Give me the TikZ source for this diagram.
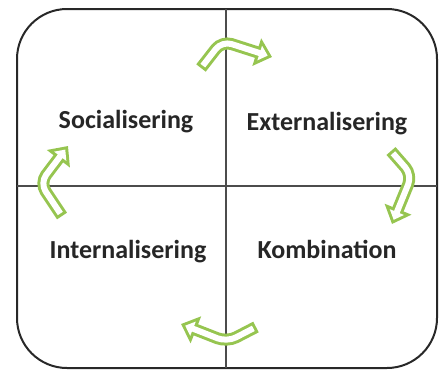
\documentclass[tikz,border=0pt]{standalone}
\usepackage{fontspec}
\setmainfont{Carlito}
\usetikzlibrary{arrows.meta}

\definecolor{cyclegreen}{RGB}{150,197,80}
\definecolor{framegray}{RGB}{40,40,40}

\tikzset{
	phase/.style = {anchor = base, font = \fontsize{26}{30}\selectfont\bfseries, text = black!85},
	arrowout/.style = {cyclegreen, line width = 12pt, rounded corners = 10pt, -{Triangle[length = 16pt, width = 28pt]}},
	arrowin/.style = {white, line width = 6pt, rounded corners = 10pt, shorten <= 3pt, shorten >= 4.5pt, -{Triangle[length = 8.4pt, width = 14.8pt]}}
}

\newcommand{\bentarrow}[3]{%
	\draw [arrowout] #1 -- #2 -- #3;
	\draw [arrowin] #1 -- #2 -- #3;
}

\begin{document}
\begin{tikzpicture}[x = 1pt, y = -1pt]
					\useasboundingbox (0, 0) rectangle (440, 370);
					\draw [framegray, line width = 2pt, rounded corners = 50pt] (17, 9) rectangle (437, 368);
					\draw [black!70, line width = 2.5pt] (226, 9) -- (226, 368);
					\draw [black!70, line width = 2.5pt] (17, 186) -- (437, 186);
					\node (soc) at (126, 128) [phase] {Socialisering};
					\node (ext) at (327, 130) [phase] {Externalisering};
					\node (int) at (128, 258) [phase] {Internalisering};
					\node (komb) at (327, 258) [phase] {Kombination};
					\bentarrow{(201, 68)}{(222, 41)}{(272, 57)}
					\bentarrow{(391, 151)}{(412, 175)}{(392, 224)}
					\bentarrow{(256, 327)}{(227, 342)}{(181, 324)}
					\bentarrow{(62, 216)}{(40, 183)}{(68, 146)}
				\end{tikzpicture}
\end{document}
